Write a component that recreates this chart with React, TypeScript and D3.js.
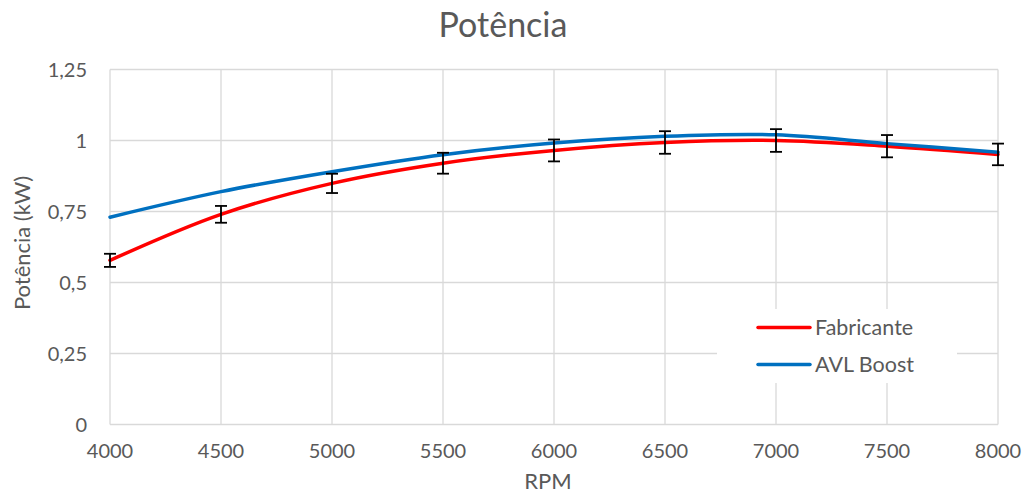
import React from "react";
import * as d3 from "d3";

const rpm = [4000, 4500, 5000, 5500, 6000, 6500, 7000, 7500, 8000];
const fabricante = [0.578, 0.74, 0.849, 0.92, 0.965, 0.993, 1.0, 0.98, 0.951];
const avlBoost = [0.73, 0.82, 0.89, 0.95, 0.991, 1.015, 1.02, 0.989, 0.959];
const errorPct = 0.04;
const yTicks = [0, 0.25, 0.5, 0.75, 1, 1.25];
const yTickLabels = ["0", "0,25", "0,5", "0,75", "1", "1,25"];
const xTicks = [4000, 4500, 5000, 5500, 6000, 6500, 7000, 7500, 8000];

const W = 1028, H = 494;
const FONT = "Lato, 'Open Sans', sans-serif";
const TXT = "#595959";

export default function App() {
  const x = d3.scaleLinear().domain([4000, 8000]).range([110, 998]);
  const y = d3.scaleLinear().domain([0, 1.25]).range([424.5, 69.5]);
  const line = d3
    .line<number>()
    .x((_, i) => x(rpm[i]))
    .y((d) => y(d))
    .curve(d3.curveCatmullRom.alpha(0.5));

  return (
    <svg width={W} height={H} style={{ display: "block", position: "absolute", left: 0, top: 0 }}>
      <rect width={W} height={H} fill="#fff" />
      <text x={503} y={37} textAnchor="middle" fontFamily={FONT} fontSize={34} fill={TXT}>
        Potência
      </text>
      {/* gridlines */}
      {yTicks.map((t) => (
        <line key={"gy" + t} x1={110} x2={998} y1={y(t)} y2={y(t)} stroke="#d9d9d9" strokeWidth={1.3} />
      ))}
      {xTicks.map((t) => (
        <line key={"gx" + t} x1={x(t)} x2={x(t)} y1={y(1.25)} y2={y(0)} stroke="#d9d9d9" strokeWidth={1.3} />
      ))}
      {/* y tick labels */}
      {yTicks.map((t, i) => (
        <text key={"ly" + t} x={87} y={y(t) + 7} textAnchor="end" fontFamily={FONT} fontSize={20} fill={TXT}>
          {yTickLabels[i]}
        </text>
      ))}
      {xTicks.map((t) => (
        <text key={"lx" + t} x={x(t)} y={458} textAnchor="middle" fontFamily={FONT} fontSize={20} fill={TXT}>
          {t}
        </text>
      ))}
      <text x={548} y={489} textAnchor="middle" fontFamily={FONT} fontSize={22} fill={TXT}>
        RPM
      </text>
      <text
        transform={`translate(30, ${y(0.625) - 4}) rotate(-90)`}
        textAnchor="middle"
        fontFamily={FONT}
        fontSize={22}
        fill={TXT}
      >
        Potência (kW)
      </text>
      {/* lines */}
      <path d={line(fabricante) || ""} fill="none" stroke="#FF0000" strokeWidth={3.5} strokeLinecap="round" />
      <path d={line(avlBoost) || ""} fill="none" stroke="#0070C0" strokeWidth={3.5} strokeLinecap="round" />
      {/* error bars */}
      {fabricante.map((v, i) => {
        const cx = x(rpm[i]);
        const y1 = y(v * (1 + errorPct));
        const y2 = y(v * (1 - errorPct));
        return (
          <g key={"eb" + i} stroke="#000" strokeWidth={1.8}>
            <line x1={cx} x2={cx} y1={y1} y2={y2} />
            <line x1={cx - 6} x2={cx + 6} y1={y1} y2={y1} />
            <line x1={cx - 6} x2={cx + 6} y1={y2} y2={y2} />
          </g>
        );
      })}
      {/* legend */}
      <rect x={717} y={309} width={240} height={74} fill="#fff" />
      <line x1={758} x2={810} y1={327.5} y2={327.5} stroke="#FF0000" strokeWidth={3.5} strokeLinecap="round" />
      <text x={815} y={335} fontFamily={FONT} fontSize={21.5} fill={TXT}>
        Fabricante
      </text>
      <line x1={758} x2={810} y1={364.5} y2={364.5} stroke="#0070C0" strokeWidth={3.5} strokeLinecap="round" />
      <text x={815} y={372} fontFamily={FONT} fontSize={21.5} fill={TXT}>
        AVL Boost
      </text>
    </svg>
  );
}
